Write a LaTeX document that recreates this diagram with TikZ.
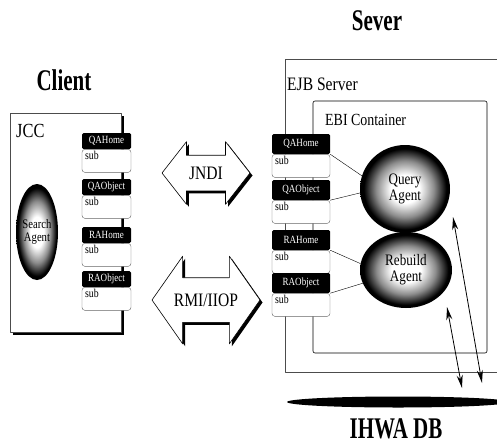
\documentclass[tikz,border=0pt]{standalone}
\usepackage{fontspec}
\setmainfont[FakeStretch=0.82]{Liberation Serif}
\newfontfamily\titlefont[FakeStretch=0.7]{Liberation Serif}
\usetikzlibrary{shapes.geometric,shapes.arrows,shadows,arrows.meta}

\pgfdeclareradialshading{agentball}{\pgfpoint{0bp}{0bp}}{color(0bp)=(white); color(8bp)=(white); color(16bp)=(black!45); color(23bp)=(black); color(50bp)=(black)}

\tikzset{
  title/.style={font=\titlefont\bfseries\fontsize{30}{30}\selectfont},
  lbl/.style={anchor=west, inner sep=0pt},
  frame/.style={draw=black!70, line width=0.6pt},
  agent/.style={ellipse, shading=agentball, inner sep=0pt, align=center, font=\fontsize{16}{16}\selectfont},
  stubhead/.style={fill=black, rounded corners=1.5pt, text=white, align=center, inner xsep=3pt, inner ysep=0pt, font=\fontsize{11}{11}\selectfont},
  stubbody/.style={draw=black!60, fill=white, rounded corners=3pt, align=left, inner xsep=3pt, inner ysep=2pt, text height=8pt, text depth=11pt, font=\fontsize{12}{12}\selectfont},
  dblarrow/.style={double arrow, draw, fill=white, line width=0.6pt, inner xsep=0pt, drop shadow={shadow xshift=2.5pt, shadow yshift=-2.5pt, fill=black, opacity=1}},
}

% stub: name, header centre, header text, text width, header height
\newcommand\stub[5]{%
  \node[stubhead, text width=#4, minimum height=#5] (#1) at (#2) {#3};
  \node[stubbody, text width=#4, anchor=north] (#1s) at (#1.south) {sub};
}

\begin{document}
\begin{tikzpicture}[x=1pt, y=-1pt, line join=round, line cap=round, >={Stealth[length=13pt,width=6pt]}]
\useasboundingbox (0,0) rectangle (497,444);

\node[title] (client) at (64,80) {Client};
\node[title] (sever) at (377,21) {Sever};
\node[title] (db) at (396,429) {IHWA DB};

% client side
\node[frame, fill=white, minimum width=111, minimum height=219, inner sep=0pt,
      drop shadow={shadow xshift=3pt, shadow yshift=-3pt, fill=black, opacity=1}] (jcc) at (65.5,222.5) {};
\node[lbl, font=\fontsize{20}{20}\selectfont] (jcclbl) at (16,131) {JCC};
\node[agent, minimum width=42, minimum height=96, font=\fontsize{13}{13}\selectfont] (search) at (37,232) {Search\\Agent};

\stub{cqahome}{106.5,141}{QAHome}{43}{16}
\stub{cqaobject}{106.5,187}{QAObject}{43}{16}
\stub{crahome}{106.5,235}{RAHome}{43}{16}
\stub{craobject}{106.5,279}{RAObject}{43}{16}

% protocols
\node[dblarrow, minimum height=88, inner ysep=17.5, double arrow head extend=13.5, double arrow tip angle=104,
      label={[font=\fontsize{19}{19}\selectfont]center:JNDI}] (jndi) at (206,173) {};
\node[dblarrow, minimum height=108, inner ysep=22, double arrow head extend=21.5, double arrow tip angle=110,
      label={[font=\fontsize{19}{19}\selectfont]center:RMI/IIOP}] (rmi) at (206,300) {};

% server side
\draw[frame] (285,59) rectangle (499,372);
\node[lbl, font=\fontsize{19}{19}\selectfont] (ejblbl) at (287,84) {EJB Server};
\draw[frame, draw=black, rounded corners=2pt] (313,101) rectangle (487,353);
\node[lbl, font=\fontsize{17}{17}\selectfont] (ebilbl) at (325,120) {EBI Container};

\node[agent, minimum width=90, minimum height=88] (query) at (405,189) {Query\\Agent};
\node[agent, minimum width=92, minimum height=76] (rebuild) at (406,270) {Rebuild\\Agent};

\stub{sqahome}{301,144}{QAHome}{52}{20}
\stub{sqaobject}{301,190}{QAObject}{52}{20}
\stub{srahome}{301,240}{RAHome}{52}{20}
\stub{sraobject}{301,283}{RAObject}{52}{20}

\draw (sqahome.south east) -- (query.163);
\draw (sqaobject.south east) -- (query.185);
\draw (srahome.south east) -- (rebuild.172);
\draw (sraobject.south east) -- (rebuild.197);

% database
\fill[black] (398,402) ellipse [x radius=111, y radius=5.5];
\path (453,217) coordinate (up1) (482,383) coordinate (down1)
      (447,307) coordinate (up2) (462,388) coordinate (down2);
\draw[<->, line width=0.8pt] (up1) -- (down1);
\draw[<->, line width=0.8pt] (up2) -- (down2);
\end{tikzpicture}
\end{document}
